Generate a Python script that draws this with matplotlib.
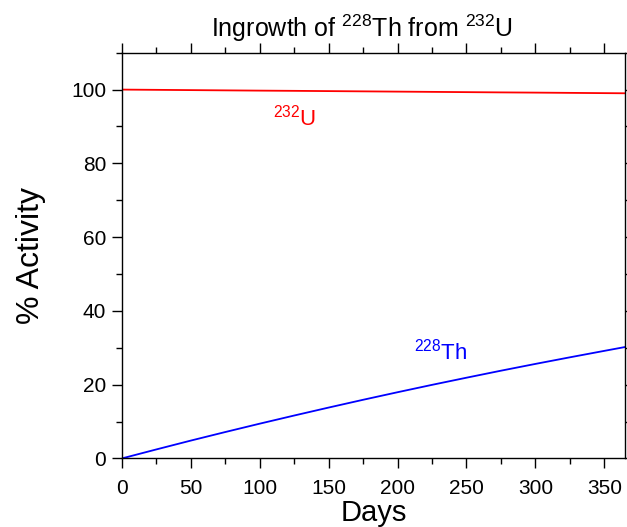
import matplotlib
matplotlib.use("Agg")
import matplotlib.pyplot as plt
from matplotlib.ticker import MultipleLocator

plt.rcParams['font.family'] = ['Liberation Sans', 'DejaVu Sans']
plt.rcParams['mathtext.fontset'] = 'custom'
plt.rcParams['mathtext.rm'] = 'Liberation Sans'
plt.rcParams['mathtext.it'] = 'Liberation Sans'

days = [0, 25, 50, 75, 100, 125, 150, 175, 200, 225, 250, 275, 300, 325, 350, 365]
u232 = [100.0, 99.93, 99.86, 99.79, 99.72, 99.66, 99.59, 99.52, 99.45, 99.38, 99.31, 99.24, 99.18, 99.11, 99.04, 99.0]
th228 = [0.0, 2.44, 4.84, 7.16, 9.43, 11.64, 13.80, 15.91, 17.96, 19.96, 21.90, 23.80, 25.64, 27.43, 29.18, 30.22]

fig = plt.figure(figsize=(6.27, 5.27), dpi=100)
ax = fig.add_axes([0.194, 0.130, 0.803, 0.770])

ax.plot(days, u232, color='#ff0000', lw=1.3)
ax.plot(days, th228, color='#0000ff', lw=1.3)

ax.set_xlim(0, 365)
ax.set_ylim(0, 110)
ax.xaxis.set_major_locator(MultipleLocator(50))
ax.xaxis.set_minor_locator(MultipleLocator(25))
ax.yaxis.set_major_locator(MultipleLocator(20))
ax.yaxis.set_minor_locator(MultipleLocator(10))
ax.tick_params(which='both', direction='out', top=True, right=True,
               labeltop=False, labelright=False, width=1.0, color='black')
ax.tick_params(which='major', length=7, labelsize=15)
ax.tick_params(which='minor', length=4)
ax.tick_params(axis='x', which='major', pad=8)
ax.tick_params(axis='y', which='major', pad=4)
for s in ax.spines.values():
    s.set_linewidth(1.0)

ax.set_xlabel('Days', fontsize=21, labelpad=0.5)
ax.set_ylabel('% Activity', fontsize=23, labelpad=18)
ax.set_title(r'Ingrowth of $^{228}$Th from $^{232}$U', fontsize=18, pad=11.5, x=0.477)

ax.text(110, 96, r'$^{232}$U', color='#ff0000', fontsize=16, va='top')
ax.text(212, 25.5, r'$^{228}$Th', color='#0000ff', fontsize=16, va='bottom')

fig.savefig('out.png', dpi=100)
